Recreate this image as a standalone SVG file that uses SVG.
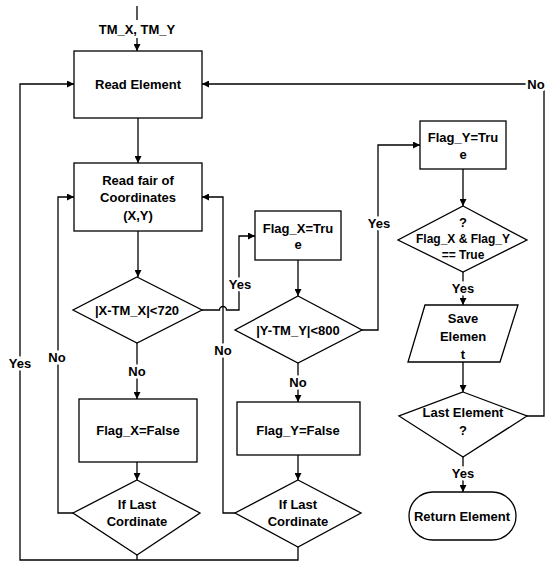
<svg xmlns="http://www.w3.org/2000/svg" width="547" height="563" viewBox="0 0 547 563">
<style>
.n{fill:#fff;stroke:#000;stroke-width:1.3}
.c{fill:none;stroke:#000;stroke-width:1.3}
text{font-family:"Liberation Sans",Arial,sans-serif;font-weight:bold;font-size:13px;text-anchor:middle;fill:#000}
.l{stroke:#fff;stroke-width:5;paint-order:stroke}
</style>
<defs>
<marker id="a" viewBox="0 0 10 10" refX="10" refY="5" markerWidth="7" markerHeight="7" markerUnits="userSpaceOnUse" orient="auto"><path d="M0,0L10,5L0,10z" fill="#000"/></marker>
</defs>
<rect width="547" height="563" fill="#fff"/>
<g id="connectors">
<line class="c" x1="137" y1="6" x2="137" y2="20"/>
<line class="c" x1="137" y1="38" x2="137" y2="51" marker-end="url(#a)"/>
<line class="c" x1="138" y1="118" x2="138" y2="163" marker-end="url(#a)"/>
<line class="c" x1="138" y1="231" x2="138" y2="277" marker-end="url(#a)"/>
<path class="c" d="M202,310H219.5a3.5,3.5 0 0 1 7,0H239V236H255" marker-end="url(#a)"/>
<line class="c" x1="298" y1="260" x2="298" y2="296" marker-end="url(#a)"/>
<path class="c" d="M362,330H378V145H420" marker-end="url(#a)"/>
<line class="c" x1="463" y1="169" x2="463" y2="206" marker-end="url(#a)"/>
<line class="c" x1="463" y1="272" x2="463" y2="305" marker-end="url(#a)"/>
<line class="c" x1="463" y1="362" x2="463" y2="392" marker-end="url(#a)"/>
<line class="c" x1="463" y1="457" x2="463" y2="492" marker-end="url(#a)"/>
<path class="c" d="M527,416H544V84H202" marker-end="url(#a)"/>
<line class="c" x1="137" y1="343" x2="137" y2="399" marker-end="url(#a)"/>
<line class="c" x1="137" y1="462" x2="137" y2="480" marker-end="url(#a)"/>
<path class="c" d="M73,513H58V197H74" marker-end="url(#a)"/>
<line class="c" x1="298" y1="363" x2="298" y2="402" marker-end="url(#a)"/>
<line class="c" x1="298" y1="455" x2="298" y2="480" marker-end="url(#a)"/>
<path class="c" d="M235,513H223V197H202" marker-end="url(#a)"/>
<path class="c" d="M298,547V560H20V84H74" marker-end="url(#a)"/>
<path class="c" d="M137,555V560"/>
<text x="137" y="34">TM_X, TM_Y</text>
<text class="l" x="240" y="289">Yes</text>
<text class="l" x="379" y="228">Yes</text>
<text class="l" x="463" y="293">Yes</text>
<text class="l" x="463" y="478">Yes</text>
<text class="l" x="536" y="89">No</text>
<text class="l" x="137" y="376">No</text>
<text class="l" x="57" y="362">No</text>
<text class="l" x="298" y="387">No</text>
<text class="l" x="223" y="355">No</text>
<text class="l" x="20" y="368">Yes</text>
</g>
<g id="read-element"><rect class="n" x="74" y="51" width="128" height="67"/><text x="138" y="89">Read Element</text></g>
<g id="read-pair"><rect class="n" x="74" y="163" width="128" height="68"/><text x="138" y="185">Read fair of</text><text x="138" y="202">Coordinates</text><text x="138" y="220">(X,Y)</text></g>
<g id="cond-x"><path class="n" d="M137,277L202,310L137,343L73,310z"/><text x="137" y="315">|X-TM_X|&lt;720</text></g>
<g id="flag-x-true"><rect class="n" x="255" y="211" width="86" height="49"/><text x="298" y="233">Flag_X=Tru</text><text x="298" y="249">e</text></g>
<g id="cond-y"><path class="n" d="M298,296L362,330L298,363L235,330z"/><text x="298" y="335">|Y-TM_Y|&lt;800</text></g>
<g id="flag-y-true"><rect class="n" x="420" y="121" width="86" height="48"/><text x="463" y="142">Flag_Y=Tru</text><text x="463" y="159">e</text></g>
<g id="cond-both"><path class="n" d="M463,206L527,240L463,272L398,240z"/><text x="463" y="227">?</text><text x="463" y="243" style="font-size:12px">Flag_X &amp; Flag_Y</text><text x="463" y="259" style="font-size:12px">== True</text></g>
<g id="save-element"><path class="n" d="M425,305H518L500,362H408z"/><text x="463" y="323">Save</text><text x="463" y="341">Elemen</text><text x="463" y="359">t</text></g>
<g id="last-element"><path class="n" d="M463,392L527,416L463,457L399,416z"/><text x="463" y="417">Last Element</text><text x="463" y="435">?</text></g>
<g id="return-element"><rect class="n" x="409" y="492" width="107" height="48" rx="24"/><text x="462" y="521">Return Element</text></g>
<g id="flag-x-false"><rect class="n" x="79" y="399" width="118" height="63"/><text x="138" y="435">Flag_X=False</text></g>
<g id="last-coord-1"><path class="n" d="M137,480L200,513L137,555L73,513z"/><text x="137" y="509">If Last</text><text x="137" y="526">Cordinate</text></g>
<g id="flag-y-false"><rect class="n" x="237" y="402" width="123" height="53"/><text x="298" y="435">Flag_Y=False</text></g>
<g id="last-coord-2"><path class="n" d="M298,480L361,513L298,547L235,513z"/><text x="298" y="509">If Last</text><text x="298" y="526">Cordinate</text></g>
</svg>
